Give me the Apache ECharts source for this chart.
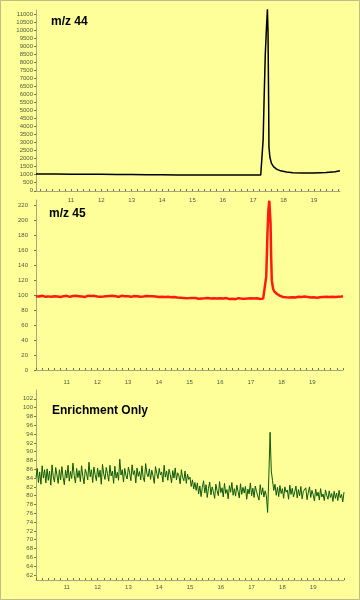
<!DOCTYPE html>
<html><head><meta charset="utf-8">
<script src="https://cdn.jsdelivr.net/npm/echarts@6/dist/echarts.min.js"></script>
<style>html,body{margin:0;padding:0;background:#ffff99}#c{width:360px;height:600px}</style>
</head><body><div id="c"></div>
<script>
// ---- tick labels ----
var xTickLabels = [11, 12, 13, 14, 15, 16, 17, 18, 19];
var y44Labels = [0,500,1000,1500,2000,2500,3000,3500,4000,4500,5000,5500,6000,6500,7000,7500,8000,8500,9000,9500,10000,10500,11000];
var y45Labels = [0,20,40,60,80,100,120,140,160,180,200,220];
var yEnrLabels = [62,64,66,68,70,72,74,76,78,80,82,84,86,88,90,92,94,96,98,100,102];

// ---- m/z 44 (time, intensity) ----
var m44Times  = [9.85,10.5,11.0,11.5,12.0,12.5,13.0,13.5,14.0,14.5,15.0,15.5,16.0,16.5,17.0,17.25,17.29,17.33,17.36,17.40,17.44,17.47,17.49,17.51,17.52,17.55,17.60,17.67,17.77,17.90,18.10,18.31,18.60,19.00,19.40,19.70,19.86];
var m44Values = [1045,1040,1035,1028,1020,1012,1005,998,992,986,980,976,975,975,978,985,1060,3200,5650,8500,10200,11290,9800,5650,2750,2100,1720,1500,1348,1240,1161,1118,1105,1105,1130,1180,1240];

// ---- m/z 45 ----
var m45PreStart = 10.00, m45Step = 0.05;
var m45Pre = [
98.6,99.4,98.1,97.6,99.2,98.8,97.9,99.6,98.3,98.9,
97.8,99.1,98.4,99.7,98.0,98.7,97.5,99.3,98.6,98.1,
99.0,98.3,97.7,99.4,98.8,98.2,99.1,97.9,98.6,99.5,
98.0,98.4,97.6,98.9,99.2,98.1,98.7,97.8,99.0,98.5,
98.2,99.3,97.9,98.6,98.0,99.1,98.4,97.7,98.8,98.3,
99.0,97.8,98.5,98.9,97.6,98.2,99.2,98.0,98.6,97.9,
98.4,99.0,97.7,98.3,98.8,97.5,98.6,98.1,97.9,98.7,
98.2,97.6,98.9,98.0,98.4,97.7,98.5,97.9,98.2,98.6,
97.4,98.1,97.8,98.3,97.5,98.0,97.7,98.2,97.3,97.9,
97.6,
97.2,96.8,97.4,96.5,96.9,96.2,96.7,95.9,96.4,96.0,
95.7,96.3,95.4,96.1,95.8,95.2,96.0,95.6,94.9,95.7,
95.3,96.1,95.0,95.6,94.8,95.9,95.2,95.5,94.7,95.8,
95.1,95.6,94.9,96.0,95.3,94.8,95.7,95.0,95.4,94.6,
95.5,95.9,94.9,95.3,95.8,95.1,94.7,95.6,95.2,95.9,
95.0,95.4,94.8,95.7,95.2,94.9,95.6,95.3,95.8];
var m45PeakTimes  = [17.47,17.50,17.54,17.57,17.60,17.61,17.64,17.66,17.68,17.72,17.76,17.80,17.85,17.90,17.95];
var m45PeakValues = [96,125,183,214,226,224,196,151,120,109,105,103,101.5,100,99];
var m45PostStart = 18.00;
var m45Post = [
98.6,97.5,98.2,97.1,97.8,96.9,97.6,97.2,98.0,96.8,
97.5,97.9,96.7,97.4,97.1,98.0,96.9,97.6,97.3,96.8,
97.7,97.0,97.5,96.6,97.8,97.2,96.9,97.6,97.1,97.9,
96.8,97.4,97.0,97.7,96.9,97.5,97.2,97.8,97.4,98.1,
98.5];

// ---- Enrichment only ----
var enrStart = 10.00, enrStep = 0.04;
var enrValues = [
84.1,86.2,83.0,85.4,82.6,86.8,84.0,85.9,82.9,86.1,83.5,85.6,82.4,87.0,84.3,83.1,86.4,84.7,82.8,85.9,83.6,86.6,84.2,82.5,85.8,
84.0,86.9,83.3,85.5,83.9,87.4,84.6,82.9,86.2,84.1,85.7,83.2,86.8,84.4,82.7,86.0,85.1,83.6,87.6,84.3,85.9,83.0,86.5,84.8,83.4,
86.3,84.2,85.8,82.6,87.1,84.9,83.7,86.4,85.0,83.3,86.9,84.5,85.6,82.8,86.7,84.0,85.3,83.5,88.3,84.7,85.9,83.1,86.2,84.6,83.8,
86.5,85.2,83.4,87.0,84.8,85.7,82.9,86.3,84.4,85.5,83.6,86.8,84.1,83.2,87.3,85.0,84.3,86.1,83.7,85.8,84.5,82.8,86.6,85.1,83.9,
86.2,84.7,85.4,83.1,86.9,84.2,85.6,83.5,86.0,84.8,82.9,85.7,84.0,86.3,83.6,85.2,84.5,82.7,85.9,84.1,83.4,85.6,82.8,84.9,83.7,
84.2,82.1,83.6,81.5,83.0,81.2,
82.9,80.4,82.2,79.8,81.9,83.4,80.6,82.5,79.6,81.7,83.1,80.2,82.0,80.9,79.4,82.6,81.1,80.0,83.2,80.7,
81.8,79.7,82.8,80.5,81.4,79.3,82.3,80.8,83.0,80.1,81.6,79.9,82.4,81.0,79.5,82.7,80.3,81.9,80.6,82.1,
79.2,81.5,80.4,82.9,80.0,81.7,79.6,82.2,80.9,81.3,79.0,82.5,80.2,81.8,79.7,81.1,80.0,
76.2,84.5,94.4,85.6,
83.4,81.2,82.6,80.1,81.9,79.8,82.3,80.5,81.6,79.4,82.0,80.8,81.3,79.2,82.4,80.3,81.7,79.7,80.9,82.2,
79.5,81.4,80.0,82.1,79.3,81.0,80.6,81.8,79.1,80.7,82.0,79.6,81.2,80.2,78.8,81.5,79.9,80.8,79.0,81.6,
79.7,80.4,78.9,81.3,80.1,79.2,81.1,79.6,80.5,78.7,81.0,79.4,80.6,78.9,81.2,79.5,80.3,78.6,80.8];

// ---- build series data ----
function zip(ts, vs){ return ts.map(function(t,i){ return [t, vs[i]]; }); }
function seq(start, step, vs){ return vs.map(function(v,i){ return [+(start + i*step).toFixed(3), v]; }); }
var m44Data = zip(m44Times, m44Values);
var m45Data = seq(m45PreStart, m45Step, m45Pre).concat(zip(m45PeakTimes, m45PeakValues), seq(m45PostStart, m45Step, m45Post));
var enrData = seq(enrStart, enrStep, enrValues);

var minorX = [];
for (var k = 50; k <= 100; k++) minorX.push(+(k*0.2).toFixed(1));

var axisCol = '#a3a67e', labCol = '#4f5a3c', FONT = 'Liberation Sans, Arial, sans-serif';
function plain(v){ return String(v); }

function xAxis(idx, min, max, margin){
  return { type:'value', gridIndex:idx, min:min, max:max,
    axisLine:{show:true, onZero:false, lineStyle:{color:axisCol, width:1}},
    axisTick:{show:true, inside:true, length:2, customValues:minorX.filter(function(v){return v>=min && v<=max;}), lineStyle:{color:'#6f7450'}},
    axisLabel:{customValues:xTickLabels, formatter:plain, fontSize:6, color:labCol, margin:margin, fontFamily:FONT},
    splitLine:{show:false} };
}
function yAxis(idx, min, max, labels, margin){
  return { type:'value', gridIndex:idx, min:min, max:max,
    axisLine:{show:true, onZero:false, lineStyle:{color:axisCol, width:1}},
    axisTick:{show:true, length:2, customValues:labels, lineStyle:{color:'#6f7450'}},
    axisLabel:{customValues:labels, formatter:plain, showMinLabel:true, showMaxLabel:true, hideOverlap:false, lineHeight:6, fontSize:6, color:labCol, margin:margin, fontFamily:FONT},
    splitLine:{show:false} };
}

var chart = echarts.init(document.getElementById('c'), null, {renderer:'canvas'});
chart.setOption({
  backgroundColor:'#ffff99',
  animation:false,
  title:[
    {text:'m/z 44', left:51, top:16, padding:0, textStyle:{fontSize:12, fontWeight:'bold', color:'#000', fontFamily:FONT}},
    {text:'m/z 45', left:49, top:208, padding:0, textStyle:{fontSize:12, fontWeight:'bold', color:'#000', fontFamily:FONT}},
    {text:'Enrichment Only', left:52, top:405, padding:0, textStyle:{fontSize:12, fontWeight:'bold', color:'#000', fontFamily:FONT}}
  ],
  grid:[
    {left:36, right:20, top:10, bottom:409},
    {left:36, right:17, top:200, bottom:230},
    {left:36, right:16, top:390, bottom:20}
  ],
  xAxis:[ xAxis(0, 9.85, 19.86, 6), xAxis(1, 10, 20, 9), xAxis(2, 10, 20, 4) ],
  yAxis:[ yAxis(0, -15, 11250, y44Labels, 3), yAxis(1, 0, 227, y45Labels, 8), yAxis(2, 60.86, 104, yEnrLabels, 3) ],
  series:[
    {type:'line', xAxisIndex:0, yAxisIndex:0, data:m44Data, showSymbol:false, lineStyle:{color:'#000', width:1.5}, clip:false},
    {type:'line', xAxisIndex:1, yAxisIndex:1, data:m45Data, showSymbol:false, lineStyle:{color:'#ff1a10', width:2.5}, clip:false},
    {type:'line', xAxisIndex:2, yAxisIndex:2, data:enrData, showSymbol:false, lineStyle:{color:'#0e5a0e', width:1}, clip:false}
  ],
  graphic:[
    {type:'rect', shape:{x:0.5, y:0.5, width:359, height:599}, style:{fill:'none', stroke:'#bdbd84', lineWidth:1}, silent:true}
  ]
});
</script></body></html>
